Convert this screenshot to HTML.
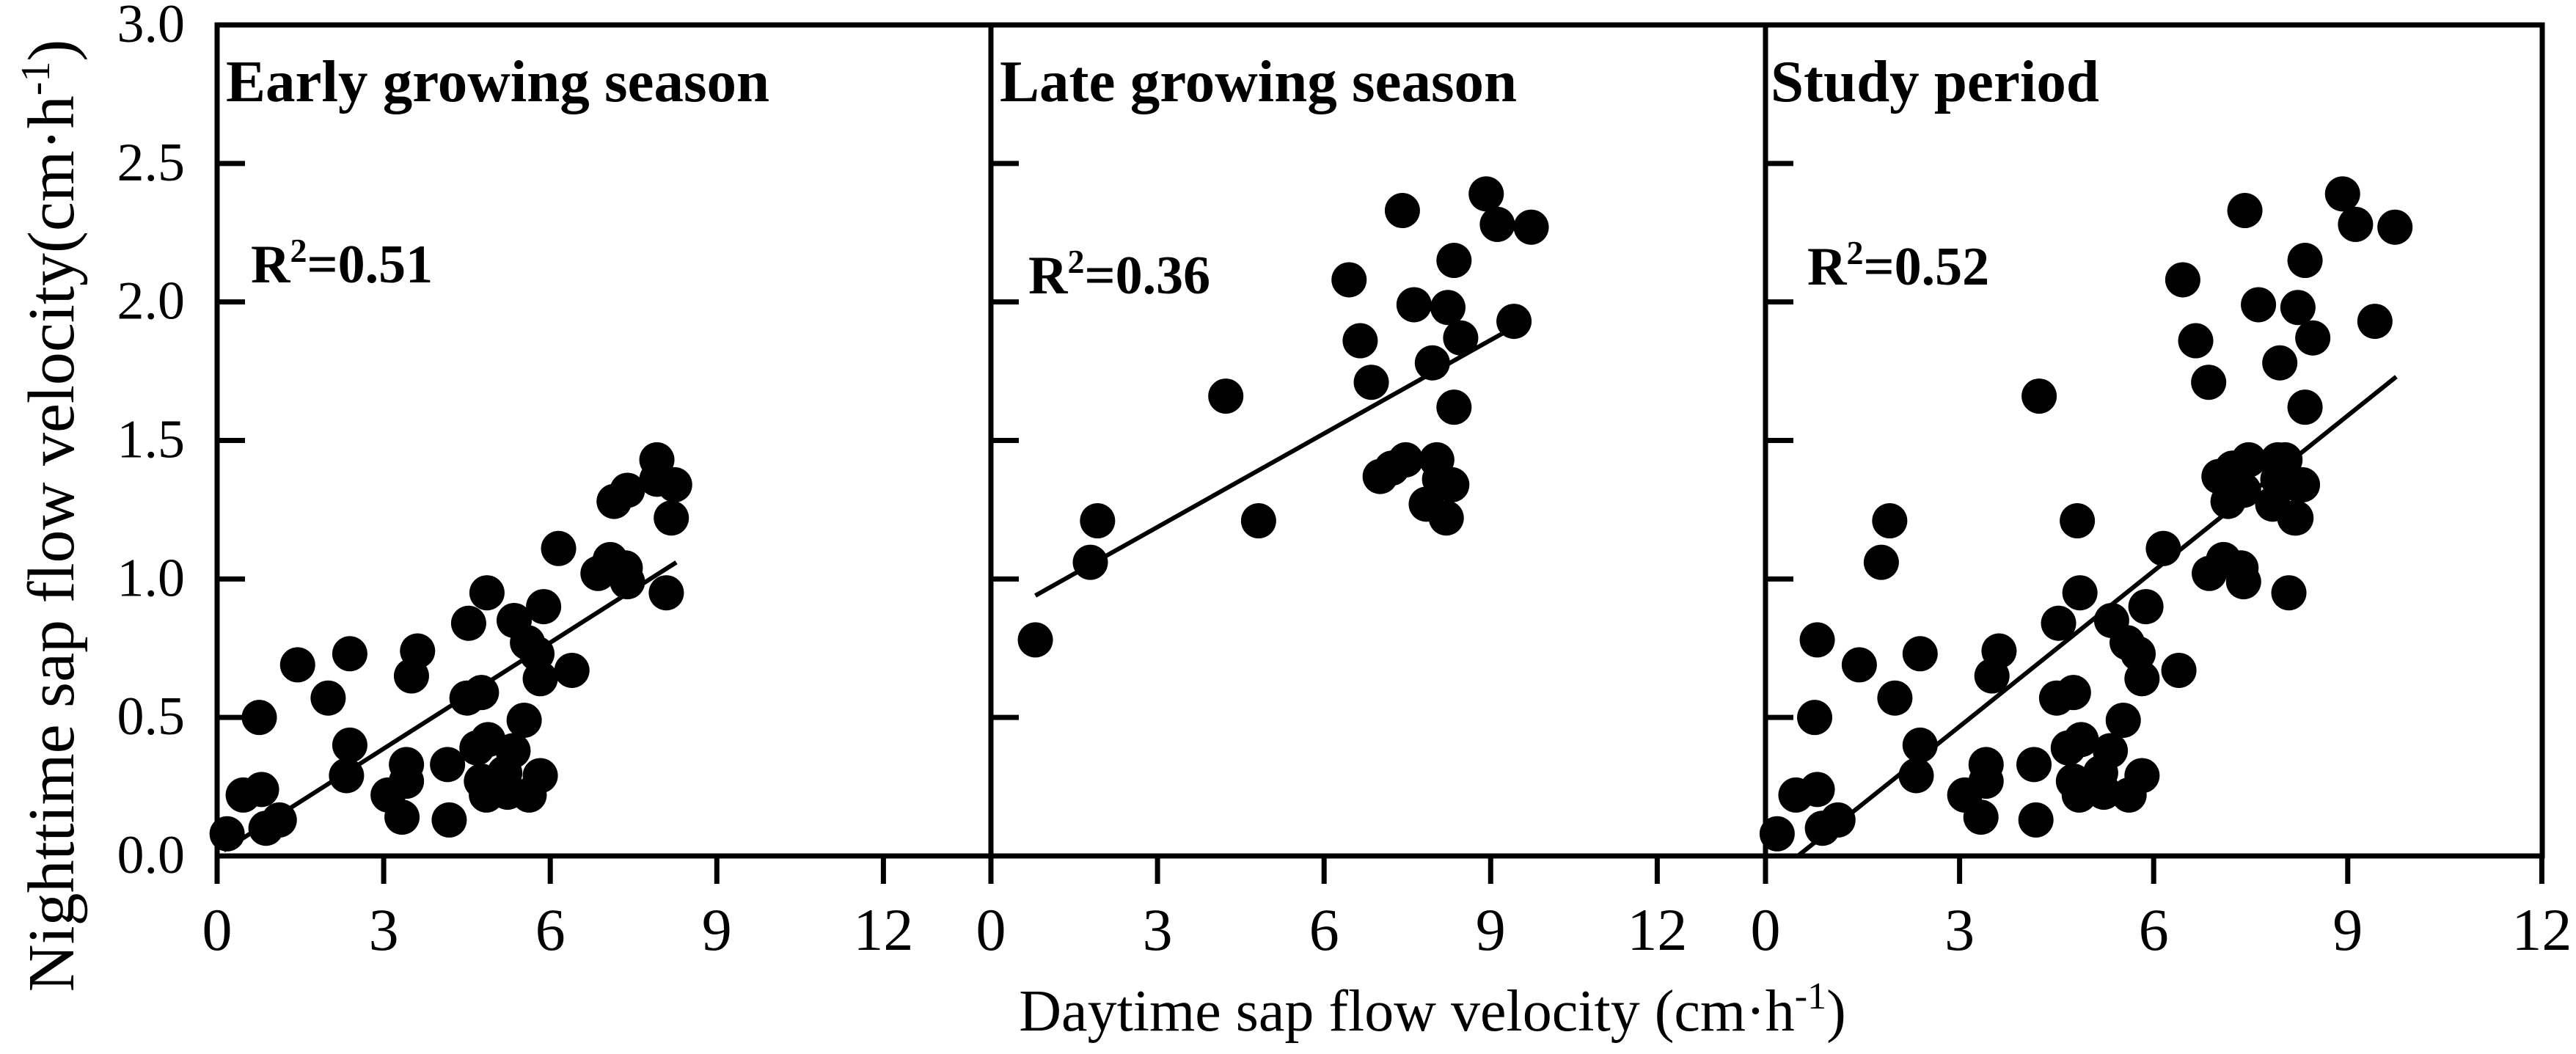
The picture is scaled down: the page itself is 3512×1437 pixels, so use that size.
<!DOCTYPE html>
<html><head><meta charset="utf-8">
<style>
html,body{margin:0;padding:0;background:#fff;}
svg{display:block;font-family:"Liberation Serif","Times New Roman",serif;}
</style></head>
<body>
<svg id="chart" width="3512" height="1437" viewBox="0 0 3512 1437" xmlns="http://www.w3.org/2000/svg">
<rect width="3512" height="1437" fill="#fff"/>
<text transform="translate(100,703) rotate(-90)" text-anchor="middle" font-size="90" fill="#000">Nighttime sap flow velocity(cm·h<tspan font-size="56" dy="-33">-1</tspan><tspan dy="33">)</tspan></text>
<text x="1953" y="1405" text-anchor="middle" font-size="80" fill="#000">Daytime sap flow velocity (cm·h<tspan font-size="52" dy="-30">-1</tspan><tspan dy="30">)</tspan></text>
<g id="plots"></g>
</svg>
<script>
// Early growing season data
const earlyX = [0.18,0.47,0.8,0.88,1.12,0.76,1.45,2.0,2.39,2.39,2.33,3.08,3.41,3.41,3.33,3.5,3.61,4.15,4.18,4.53,4.5,4.76,4.86,4.88,4.68,4.76,4.85,5.18,5.33,5.23,5.35,5.53,5.62,5.82,5.59,5.76,5.82,5.88,6.15,6.39,6.86,7.08,7.35,7.39,7.15,7.39,7.92,8.24,8.18,8.09,7.92];
const earlyY = [0.08,0.22,0.24,0.10,0.13,0.50,0.69,0.57,0.73,0.40,0.29,0.22,0.33,0.27,0.14,0.65,0.74,0.33,0.13,0.84,0.57,0.59,0.95,0.42,0.39,0.27,0.22,0.30,0.38,0.23,0.85,0.49,0.22,0.29,0.77,0.73,0.64,0.90,1.11,0.67,1.02,1.07,1.04,0.99,1.28,1.32,1.43,1.34,1.22,0.95,1.36];
// Late growing season data
const lateX = [0.8,1.79,1.92,4.23,4.82,6.45,6.65,6.85,7.01,7.22,7.47,7.41,7.62,7.84,7.95,8.03,8.08,8.23,8.30,8.20,8.34,8.46,8.34,8.92,9.12,9.42,9.73];
const lateY = [0.78,1.06,1.21,1.66,1.21,2.08,1.86,1.71,1.37,1.40,1.43,2.33,1.99,1.27,1.78,1.43,1.36,1.98,1.34,1.22,2.15,1.87,1.62,2.39,2.28,1.93,2.27];
// Fit lines [x0,y0,x1,y1]
const earlyFit = [0.12,0.02,8.27,1.06];
const lateFit = [0.8,0.94,9.6,1.93];
const studyFit = [0.5,0.0,9.75,1.73];
const titles = ["Early growing season","Late growing season","Study period"];
const r2 = ["0.51","0.36","0.52"];
const xTicks = [0,3,6,9,12];
const yTicks = [0,0.5,1.0,1.5,2.0,2.5,3.0];

const NS="http://www.w3.org/2000/svg";
const root=document.getElementById('plots');
function mk(tag,attrs,parent){const e=document.createElementNS(NS,tag);for(const k in attrs)e.setAttribute(k,attrs[k]);(parent||root).appendChild(e);return e;}

const plotTop=34,plotBottom=1167;
const yScale=v=>plotBottom-(plotBottom-plotTop)*v/3.0;
const panels=[
 {left:296,right:1351,unit:75.7,xs:earlyX,ys:earlyY,fit:earlyFit,tx:308,rx:342,ry:385,showY:true},
 {left:1351,right:2407,unit:75.7,xs:lateX,ys:lateY,fit:lateFit,tx:1363,rx:1402,ry:400,showY:false},
 {left:2407,right:3466,unit:88.2,xs:earlyX.concat(lateX),ys:earlyY.concat(lateY),fit:studyFit,tx:2414,rx:2464,ry:388,showY:false}
];
panels.forEach((p,i)=>{
  const g=mk('g',{});
  
  
  const xs=v=>p.left+p.unit*v;
  p.xs.forEach((xv,j)=>{
    const c=mk('circle',{cx:xs(xv),cy:yScale(p.ys[j]),r:24,fill:'#000'},g);
    
    
  });
  const l=mk('line',{x1:xs(p.fit[0]),y1:yScale(p.fit[1]),x2:xs(p.fit[2]),y2:yScale(p.fit[3]),stroke:'#000','stroke-width':6},g);
  
  
  const f=mk('rect',{x:p.left,y:plotTop,width:p.right-p.left,height:plotBottom-plotTop,fill:'none',stroke:'#000','stroke-width':7},g);
  
  
  yTicks.forEach(t=>{
    const tk=mk('line',{x1:p.left,x2:p.left+38,y1:yScale(t),y2:yScale(t),stroke:'#000','stroke-width':7},g);
    
    
    if(p.showY){
      const tl=mk('text',{x:252,y:yScale(t)+23,'text-anchor':'end','font-size':74,fill:'#000'},g);
      tl.textContent=t.toFixed(1);
      
      
    }
  });
  xTicks.forEach(t=>{
    const x=xs(t);
    const tk=mk('line',{x1:x,x2:x,y1:plotBottom,y2:plotBottom+38,stroke:'#000','stroke-width':7},g);
    
    
    const tl=mk('text',{x:x,y:1295,'text-anchor':'middle','font-size':82,fill:'#000'},g);
    tl.textContent=String(t);
    
    
  });
  const tt=mk('text',{x:p.tx,y:138,'font-size':81,'font-weight':'bold',fill:'#000'},g);
  tt.textContent=titles[i];
  
  
  const rt=mk('text',{x:p.rx,y:p.ry,'font-size':74,'font-weight':'bold',fill:'#000'},g);
  rt.innerHTML='R<tspan font-size="46" dy="-28">2</tspan><tspan dy="28">='+r2[i]+'</tspan>';
  
  
});
</script>
</body></html>
